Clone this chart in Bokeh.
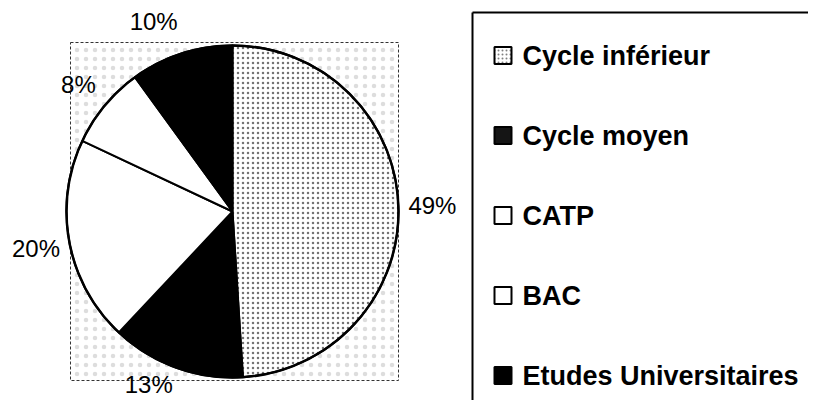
import math
from bokeh.plotting import figure
from bokeh.models import Range1d, ColumnDataSource
from bokeh.core.properties import value
from bokeh.embed import file_html
from bokeh.resources import INLINE

# ---- data ----
categories = ["Cycle inférieur", "Cycle moyen", "CATP", "BAC", "Etudes Universitaires"]
shares = [49, 13, 20, 8, 10]
pct_labels = ["49%", "13%", "20%", "8%", "10%"]
fills = ["white", "black", "white", "white", "black"]
hatches = ["dot", " ", " ", " ", " "]

# ---- layout (picture pixels; data y = H - image y) ----
W, H = 808, 400
def Y(img_y):
    return H - img_y

cx, cy = 232, Y(211)
R = 166
label_r = 200
label_nudge_x = [0, -16, 0, 0, -17]
label_nudge_y = [0, 15, 0, 0, 0]

p = figure(width=W, height=H, output_backend="svg", toolbar_location=None,
           x_range=Range1d(0, W), y_range=Range1d(0, H),
           x_axis_location=None, y_axis_location=None, min_border=0)
p.grid.visible = False
p.outline_line_color = None
p.background_fill_color = "white"
p.border_fill_color = "white"

# plot area box (speckled)
p.quad(left=[70], right=[398], top=[Y(42)], bottom=[Y(380)],
       fill_color="white", hatch_pattern="dot", hatch_color="#777777",
       hatch_scale=9, hatch_weight=0.5, hatch_alpha=0.25,
       line_color="#333333", line_width=1, line_dash="3 2")

# wedges
total = float(sum(shares))
starts, ends, mids = [], [], []
cum = 0.0
for s in shares:
    a0 = math.pi / 2 - 2 * math.pi * cum / total
    cum += s
    a1 = math.pi / 2 - 2 * math.pi * cum / total
    starts.append(a0)
    ends.append(a1)
    mids.append((a0 + a1) / 2)

src = ColumnDataSource(dict(start=starts, end=ends, fill=fills, hatch=hatches,
                            x=[cx] * len(shares), y=[cy] * len(shares)))
p.wedge(x="x", y="y", radius=R, start_angle="start", end_angle="end",
        direction="clock", source=src, fill_color="fill",
        hatch_pattern="hatch", hatch_color="black", hatch_scale=5,
        hatch_weight=0.7, hatch_alpha=0.55,
        line_color="black", line_width=2)
p.circle(x=[cx], y=[cy], radius=R, fill_color=None, line_color="black", line_width=2.5)

# percentage labels
lx = [cx + label_r * math.cos(m) + nx for m, nx in zip(mids, label_nudge_x)]
ly = [cy + label_r * math.sin(m) + ny for m, ny in zip(mids, label_nudge_y)]
p.text(x=lx, y=ly, text=pct_labels, text_font=value("Liberation Sans"),
       text_font_size="24px", text_align="center", text_baseline="middle",
       text_color="black")

# legend frame (cut off at right and bottom)
p.multi_line(xs=[[472, 472], [472, 840]], ys=[[Y(430), Y(12)], [Y(12), Y(12)]],
             line_color="black", line_width=2)

leg_y = [Y(55 + 80 * i) for i in range(len(categories))]
leg_src = ColumnDataSource(dict(x=[502.5] * len(categories), y=leg_y,
                                fill=["white", "#151515", "white", "white", "black"],
                                hatch=hatches))
p.rect(x="x", y="y", width=17, height=17, source=leg_src, fill_color="fill",
       hatch_pattern="hatch", hatch_color="black", hatch_scale=4, hatch_weight=0.8,
       hatch_alpha=0.5, line_color="black", line_width=2)
p.text(x=[522] * len(categories), y=leg_y, text=categories,
       text_font=value("Liberation Sans"), text_font_style="bold",
       text_font_size="27px", text_align="left", text_baseline="middle",
       text_color="black")

open("out.html", "w").write(file_html(p, INLINE))
